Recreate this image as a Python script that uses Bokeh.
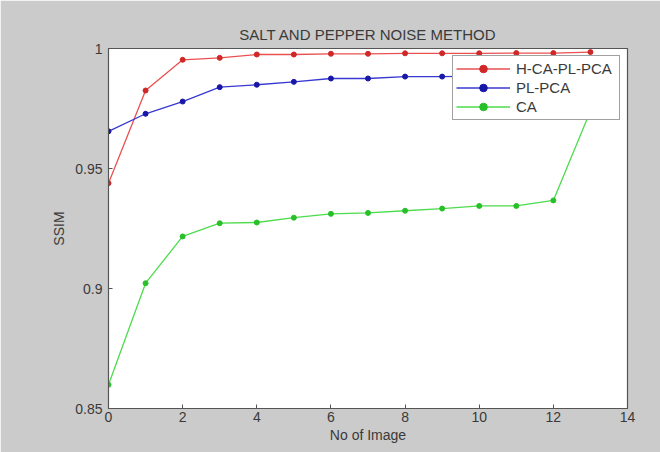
from bokeh.plotting import figure
from bokeh.models import FixedTicker, Range1d, Legend, LegendItem
from bokeh.embed import file_html
from bokeh.resources import INLINE

x_images = list(range(14))
hca_pl_pca = [0.9439, 0.9825, 0.9953, 0.9961, 0.9975, 0.9975, 0.9978, 0.9978,
              0.9980, 0.9980, 0.9980, 0.9981, 0.9981, 0.9985]
pl_pca = [0.9655, 0.9728, 0.9779, 0.9839, 0.9849, 0.9861, 0.9875, 0.9875,
          0.9883, 0.9883, 0.9885, 0.9888, 0.9890, 0.9892]
ca = [0.8599, 0.9022, 0.9217, 0.9272, 0.9275, 0.9295, 0.9311, 0.9315,
      0.9324, 0.9333, 0.9344, 0.9344, 0.9367, 0.9740]

series_names = ["H-CA-PL-PCA", "PL-PCA", "CA"]
x_ticks = [0, 2, 4, 6, 8, 10, 12, 14]
y_ticks = [0.85, 0.9, 0.95, 1.0]
y_tick_labels = {0.85: "0.85", 0.9: "0.9", 0.95: "0.95", 1.0: "1"}

FONT = "Liberation Sans"
TXT = "#3a3a3a"

p = figure(width=660, height=452, output_backend="svg", toolbar_location=None,
           x_range=Range1d(0, 14), y_range=Range1d(0.85, 1.0),
           title="SALT AND PEPPER NOISE METHOD",
           min_border_left=108, min_border_right=33, min_border_top=48,
           min_border_bottom=44)

p.background_fill_color = "white"
p.border_fill_color = "#cbcbcb"
p.outline_line_color = "#555555"
p.outline_line_width = 1.2
p.grid.visible = False

p.title.align = "center"
p.title.text_font = FONT
p.title.text_font_size = "15px"
p.title.text_font_style = "normal"
p.title.text_color = TXT
p.title.standoff = 11

for ax in (p.xaxis[0], p.yaxis[0]):
    ax.axis_line_color = "#555555"
    ax.major_tick_line_color = "#555555"
    ax.minor_tick_line_color = None
    ax.major_tick_in = 4
    ax.major_tick_out = 0
    ax.major_label_text_font = FONT
    ax.major_label_text_font_size = "14px"
    ax.major_label_text_color = TXT
    ax.axis_label_text_font = FONT
    ax.axis_label_text_font_size = "14px"
    ax.axis_label_text_font_style = "normal"
    ax.axis_label_text_color = TXT

p.xaxis.ticker = FixedTicker(ticks=x_ticks)
p.yaxis.ticker = FixedTicker(ticks=y_ticks)
p.yaxis.major_label_overrides = y_tick_labels
p.xaxis.axis_label = "No of Image"
p.yaxis.axis_label = "SSIM"
p.xaxis.axis_label_standoff = 2
p.yaxis.axis_label_standoff = 5
p.xaxis.major_label_standoff = 3
p.yaxis.major_label_standoff = 6

line_colors = ["#ea5050", "#3838d2", "#4cdc4c"]
mark_colors = ["#d02828", "#1818a8", "#28c028"]
items = []
for name, ys, lc, mc in zip(series_names, [hca_pl_pca, pl_pca, ca], line_colors, mark_colors):
    r1 = p.line(x_images, ys, line_color=lc, line_width=1.3)
    r2 = p.scatter(x_images, ys, size=5, fill_color=mc, line_color=mc)
    items.append(LegendItem(label=name, renderers=[r1, r2]))

legend = Legend(items=items, location="top_right")
legend.label_text_font = FONT
legend.label_text_font_size = "15px"
legend.label_text_color = TXT
legend.border_line_color = "#444444"
legend.border_line_width = 1.5
legend.background_fill_alpha = 1.0
legend.margin = 7
legend.padding = 3
legend.spacing = 0
legend.glyph_width = 54
legend.glyph_height = 19
legend.label_height = 19
legend.label_width = 100
legend.label_standoff = 6
p.add_layout(legend)

open("out.html", "w").write(file_html(p, INLINE))
